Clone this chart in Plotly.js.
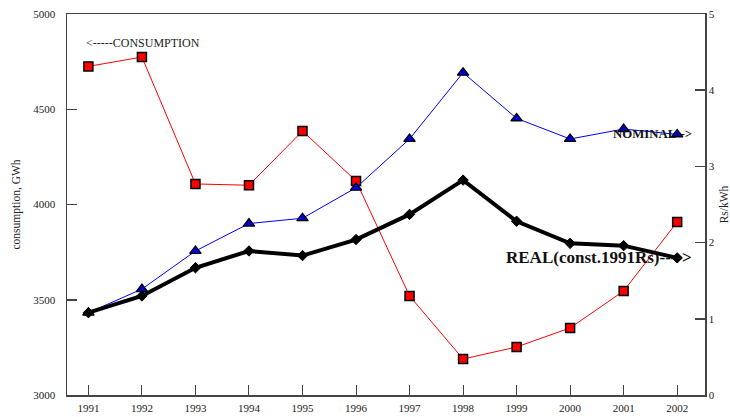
<!DOCTYPE html>
<html>
<head>
<meta charset="utf-8">
<script src="https://cdn.plot.ly/plotly-3.0.1.min.js"></script>
<style>html,body{margin:0;padding:0;background:#fff;}#chart{width:730px;height:417px;}</style>
</head>
<body>
<div id="chart"></div>
<script>
const years = [1991,1992,1993,1994,1995,1996,1997,1998,1999,2000,2001,2002];
const consumption = [4725,4774,4108,4101,4386,4124,3520,3189,3252,3352,3546,3908];
const nominal = [1.08,1.39,1.89,2.25,2.32,2.72,3.36,4.23,3.63,3.36,3.49,3.42];
const real = [1.08,1.30,1.67,1.89,1.83,2.04,2.37,2.82,2.28,1.99,1.96,1.80];
const yearTicks = years.map(String);

const serif = 'Liberation Serif, Times New Roman, serif';
const axisCol = '#444';

const traces = [
  {x: years, y: consumption, yaxis: 'y', mode: 'lines+markers', type: 'scatter',
   line: {color: '#ff0000', width: 1},
   marker: {symbol: 'square', size: 9, color: '#ff0000', line: {color: '#000', width: 1.5}}},
  {x: years, y: nominal, yaxis: 'y2', mode: 'lines+markers', type: 'scatter',
   line: {color: '#0000ff', width: 1},
   marker: {symbol: 'triangle-up', size: 10, color: '#0000cc', line: {color: '#000', width: 1.2}}},
  {x: years, y: real, yaxis: 'y2', mode: 'lines+markers', type: 'scatter',
   line: {color: '#000', width: 4},
   marker: {symbol: 'diamond', size: 8, color: '#000', line: {color: '#000', width: 1}}}
];

const layout = {
  width: 730, height: 417,
  margin: {l: 67, r: 25, t: 14, b: 22},
  paper_bgcolor: '#fff', plot_bgcolor: '#fff',
  showlegend: false,
  font: {family: serif, size: 11, color: '#222'},
  xaxis: {
    range: [1990.6, 2002.52], tickmode: 'array', tickvals: years, ticktext: yearTicks,
    ticks: 'inside', ticklen: 10, tickwidth: 1, tickcolor: axisCol,
    showline: true, linecolor: axisCol, linewidth: 1.5, mirror: true,
    showgrid: false, zeroline: false, ticklabelstandoff: 2,
    tickfont: {family: serif, size: 11, color: '#222'}
  },
  yaxis: {
    range: [3000, 5000], tickvals: [3000,3500,4000,4500,5000],
    ticks: 'inside', ticklen: 10, tickwidth: 1.5, tickcolor: axisCol,
    showline: true, linecolor: axisCol, linewidth: 1.5,
    showgrid: false, zeroline: false, ticklabelstandoff: 8,
    tickfont: {family: serif, size: 11, color: '#222'},
    title: {text: 'consumption, GWh', font: {family: serif, size: 11.5, color: '#222'}, standoff: 10}
  },
  yaxis2: {
    range: [0, 5], tickvals: [0,1,2,3,4,5], overlaying: 'y', side: 'right',
    ticks: 'inside', ticklen: 10, tickwidth: 1.5, tickcolor: axisCol,
    showline: true, linecolor: axisCol, linewidth: 1.5,
    showgrid: false, zeroline: false, tickfont: {family: serif, size: 11, color: '#222'},
    title: {text: 'Rs/kWh', font: {family: serif, size: 11.5, color: '#222'}, standoff: 17}
  },
  annotations: [
    {xref: 'paper', yref: 'paper', x: 0.027, y: 0.924, xanchor: 'left', yanchor: 'middle',
     text: '<-----CONSUMPTION', showarrow: false, font: {family: serif, size: 12, color: '#222'}},
    {xref: 'paper', yref: 'paper', x: 0.983, y: 0.685, xanchor: 'right', yanchor: 'middle',
     text: '<b>NOMINAL--></b>', showarrow: false, font: {family: serif, size: 12.8, color: '#111'}},
    {xref: 'paper', yref: 'paper', x: 0.983, y: 0.362, xanchor: 'right', yanchor: 'middle',
     text: '<b>REAL(const.1991Rs)----></b>', showarrow: false, font: {family: serif, size: 17, color: '#111'}}
  ]
};

Plotly.newPlot('chart', traces, layout, {displayModeBar: false, staticPlot: true});
</script>
</body>
</html>
